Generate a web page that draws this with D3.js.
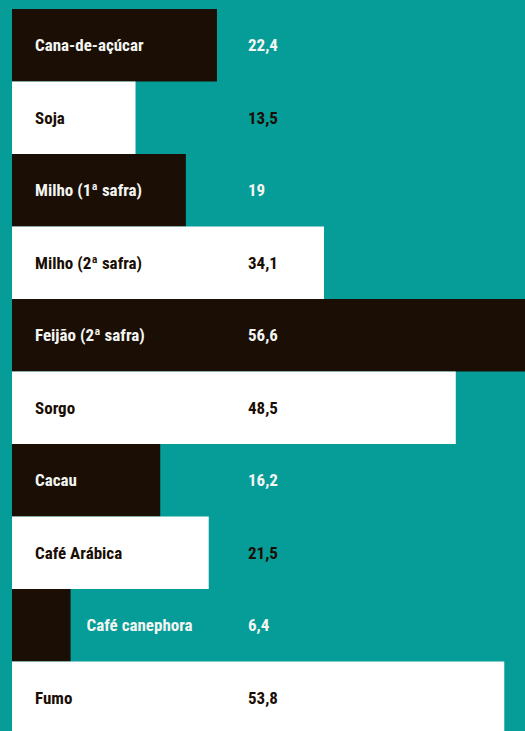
<!DOCTYPE html>
<html>
<head>
<meta charset="utf-8">
<script src="https://cdn.jsdelivr.net/npm/d3@7"></script>
<style>
  html, body { margin: 0; padding: 0; background: #069c98; }
  svg { display: block; }
  text { font-family: "Liberation Sans Narrow", "Roboto Condensed", "DejaVu Sans Condensed", "Liberation Sans", sans-serif; font-weight: bold; font-stretch: condensed; }
</style>
</head>
<body>
<svg id="chart"></svg>
<script>
const categories = ["Cana-de-açúcar", "Soja", "Milho (1ª safra)", "Milho (2ª safra)", "Feijão (2ª safra)", "Sorgo", "Cacau", "Café Arábica", "Café canephora", "Fumo"];
const values = [22.4, 13.5, 19, 34.1, 56.6, 48.5, 16.2, 21.5, 6.4, 53.8];
const barColors = ["dark", "light", "dark", "light", "dark", "light", "dark", "light", "dark", "light"];

const W = 525, H = 731;
const colors = { bg: "#069c98", dark: "#1b0e04", light: "#ffffff", textOnDark: "#f2f5f2", textOnLight: "#1b0e04" };

const svg = d3.select("#chart").attr("width", W).attr("height", H);
svg.append("rect").attr("width", W).attr("height", H).attr("fill", colors.bg);

const x = d3.scaleLinear().domain([0, 60]).range([12, 561]);
const y = d3.scaleBand().domain(categories).range([9, 734]).padding(0);

const fmt = d3.formatLocale({ decimal: ",", thousands: ".", grouping: [3], currency: ["R$", ""] }).format("~f");

const data = categories.map((c, i) => ({ c, v: values[i], tone: barColors[i] }));

const rows = svg.selectAll("g.row").data(data).join("g").attr("class", "row");

rows.append("rect")
  .attr("x", x(0))
  .attr("y", d => y(d.c))
  .attr("width", d => x(d.v) - x(0))
  .attr("height", y.bandwidth())
  .attr("fill", d => colors[d.tone]);

rows.append("text")
  .attr("class", "label")
  .attr("y", d => y(d.c) + y.bandwidth() / 2)
  .attr("dy", "0.35em")
  .attr("font-size", 17)
  .attr("fill", d => d.tone === "dark" ? colors.textOnDark : colors.textOnLight)
  .text(d => d.c)
  .attr("x", function(d) {
    const len = this.getComputedTextLength();
    const inside = x(d.v) - x(0);
    return (len + 30 < inside) ? 35 : x(d.v) + 16;
  });

rows.append("text")
  .attr("class", "value")
  .attr("x", 248)
  .attr("y", d => y(d.c) + y.bandwidth() / 2)
  .attr("dy", "0.35em")
  .attr("font-size", 17)
  .attr("fill", d => d.tone === "dark" ? colors.textOnDark : colors.textOnLight)
  .text(d => fmt(d.v));
</script>
</body>
</html>
